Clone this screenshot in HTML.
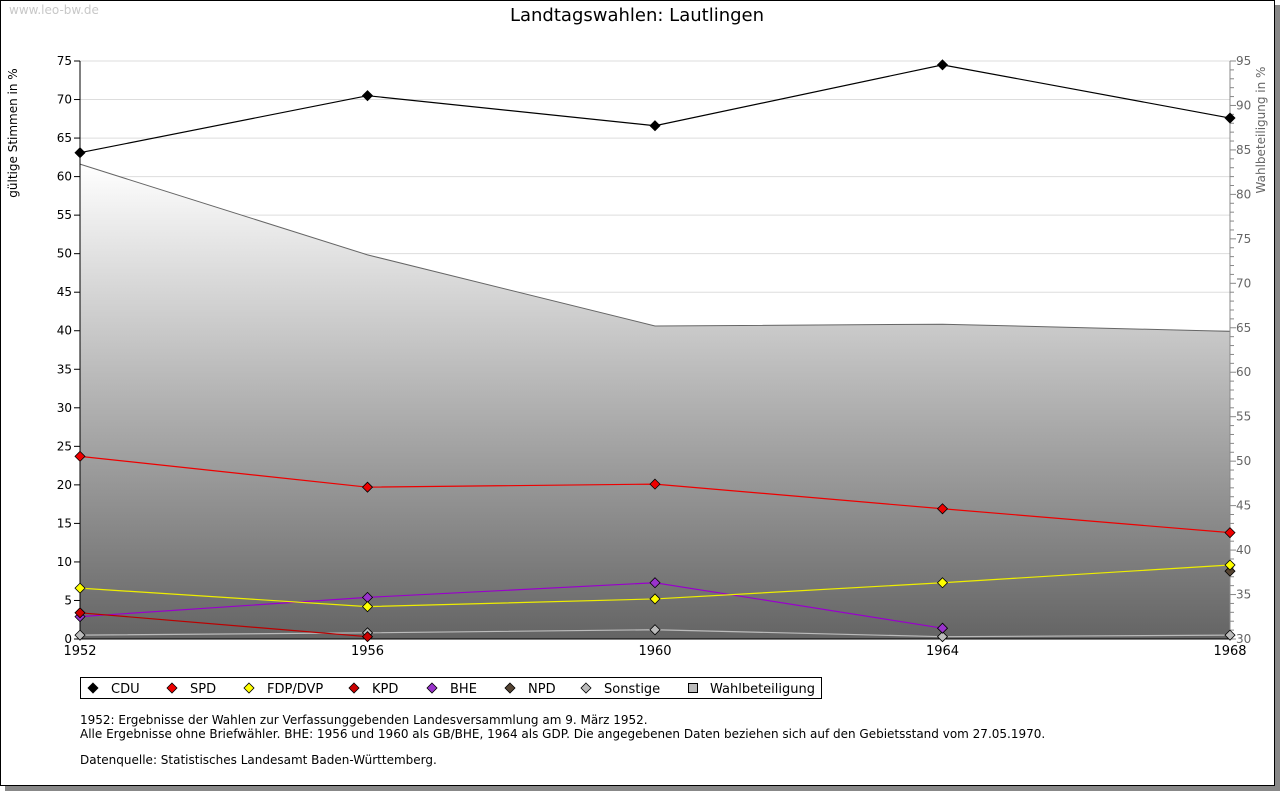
<!DOCTYPE html>
<html><head><meta charset="utf-8"><style>
body{margin:0;background:#fff;width:1280px;height:791px;overflow:hidden;font-family:"DejaVu Sans","Liberation Sans",sans-serif}
</style></head><body>
<svg id="c" width="1280" height="791" xmlns="http://www.w3.org/2000/svg" font-family="DejaVu Sans, Liberation Sans, sans-serif">
<defs><linearGradient id="g" x1="0" y1="0" x2="0" y2="1"><stop offset="0" stop-color="#ffffff"/><stop offset="1" stop-color="#646464"/></linearGradient></defs>
<rect x="1275" y="5" width="5" height="786" fill="#888"/>
<rect x="5" y="786" width="1275" height="5" fill="#888"/>
<rect x="0.5" y="0.5" width="1274" height="785" fill="#fff" stroke="#000"/>
<text x="9" y="14" font-size="12" fill="#c8c8c8">www.leo-bw.de</text>
<text x="637" y="21" font-size="18" text-anchor="middle">Landtagswahlen: Lautlingen</text>
<text transform="translate(17,133) rotate(-90)" font-size="12" text-anchor="middle">gültige Stimmen in %</text>
<text transform="translate(1265,130) rotate(-90)" font-size="12" fill="#666" text-anchor="middle">Wahlbeteiligung in %</text>
<g id="grid"></g><g id="area"></g><g id="axes"></g><g id="series"></g><g id="legend"></g>
<text x="80" y="724" font-size="12">1952: Ergebnisse der Wahlen zur Verfassunggebenden Landesversammlung am 9. März 1952.</text>
<text x="80" y="738" font-size="12">Alle Ergebnisse ohne Briefwähler. BHE: 1956 und 1960 als GB/BHE, 1964 als GDP. Die angegebenen Daten beziehen sich auf den Gebietsstand vom 27.05.1970.</text>
<text x="80" y="764" font-size="12">Datenquelle: Statistisches Landesamt Baden-Württemberg.</text>
</svg>
<script>
const years=[1952,1956,1960,1964,1968];
const leftTicks=[0,5,10,15,20,25,30,35,40,45,50,55,60,65,70,75];
const rightTicks=[30,35,40,45,50,55,60,65,70,75,80,85,90,95];
const cdu=[63.1,70.5,66.6,74.5,67.6];
const spd=[23.7,19.7,20.1,16.9,13.8];
const fdp=[6.6,4.2,5.2,7.3,9.6];
const kpd=[3.4,0.3,null,null,null];
const bhe=[2.9,5.4,7.3,1.4,null];
const npd=[null,null,null,null,8.8];
const sonstige=[0.5,0.8,1.2,0.3,0.5];
const turnout=[83.4,73.2,65.2,65.4,64.6];
const NS='http://www.w3.org/2000/svg';
const X0=80,X1=1230,Y0=639,Y1=61;
const x=i=>X0+(years[i]-1952)/(1968-1952)*(X1-X0);
const y=v=>Y0-v/75*(Y0-Y1);
const yr=v=>Y0-(v-30)/65*(Y0-Y1);
function mk(tag,attrs,parent){const e=document.createElementNS(NS,tag);for(const k in attrs)e.setAttribute(k,attrs[k]);document.getElementById(parent).appendChild(e);return e;}
leftTicks.forEach(t=>{
 if(t>0){const l=mk('line',{x1:X0,x2:X1,y1:y(t),y2:y(t),stroke:'#ddd'},'grid');
 
 }
 const tk=mk('line',{x1:74,x2:X0,y1:y(t),y2:y(t),stroke:'#000'},'axes');
 
 
 const tx=mk('text',{x:72,y:y(t)+4,'font-size':12,'text-anchor':'end'},'axes');tx.textContent=t;
 
 
});
for(let v=30;v<=95;v++){const big=v%5==0;
 const tk=mk('line',{x1:X1,x2:X1+(big?6:4),y1:yr(v),y2:yr(v),stroke:'#888'},'axes');
 
 }
rightTicks.forEach(t=>{const tx=mk('text',{x:1236,y:yr(t)+4,'font-size':12,fill:'#666'},'axes');tx.textContent=t;
 
 });
let d='M'+X0+','+Y0;turnout.forEach((v,i)=>d+=' L'+x(i)+','+yr(v));d+=' L'+X1+','+Y0+' Z';
const ar=mk('path',{d:d,fill:'url(#g)'},'area');


const al=mk('polyline',{points:turnout.map((v,i)=>x(i)+','+yr(v)).join(' '),fill:'none',stroke:'#666'},'area');


let a=mk('line',{x1:X0,x2:X0,y1:Y1,y2:Y0,stroke:'#000'},'axes');


a=mk('line',{x1:X1,x2:X1,y1:Y1,y2:Y0,stroke:'#888'},'axes');


a=mk('line',{x1:X0,x2:X1,y1:Y0,y2:Y0,stroke:'#000'},'axes');


years.forEach((yy,i)=>{const tx=mk('text',{x:x(i),y:655,'font-size':13,'text-anchor':'middle'},'axes');tx.textContent=yy;
 
 });
const series=[['cdu',cdu,'#000','#000'],['spd',spd,'#e00','#e00'],['fdp-dvp',fdp,'#ee0','#ff0'],['kpd',kpd,'#b00','#c00'],['bhe',bhe,'#90c','#93c'],['npd',npd,'#543','#543'],['sonstige',sonstige,'#bbb','#bbb']];
series.slice().reverse().forEach(([n,vals,lc,fc])=>{
 const pts=[];vals.forEach((v,i)=>{if(v!==null)pts.push(x(i)+','+y(v));});
 const pl=mk('polyline',{points:pts.join(' '),fill:'none',stroke:lc,'stroke-width':1.2},'series');
 
 
 vals.forEach((v,i)=>{if(v===null)return;const cx=x(i),cy=y(v);
  const m=mk('path',{d:`M${cx},${cy-5} L${cx+5},${cy} L${cx},${cy+5} L${cx-5},${cy} Z`,fill:fc,stroke:'#000','stroke-width':0.8},'series');
  
  });
});
const lb=mk('rect',{x:80.5,y:677.5,width:741,height:21,fill:'#fff',stroke:'#000'},'legend');


const leg=[['CDU','#000',93],['SPD','#e00',172],['FDP/DVP','#ff0',249],['KPD','#c00',354],['BHE','#93c',432],['NPD','#543',510],['Sonstige','#bbb',586]];
leg.forEach(([t,c,lx])=>{
 const m=mk('path',{d:`M${lx},${683} L${lx+5},${688} L${lx},${693} L${lx-5},${688} Z`,fill:c,stroke:'#000','stroke-width':0.8},'legend');
 
 
 const tx=mk('text',{x:lx+18,y:693,'font-size':13},'legend');tx.textContent=t;
 
 
});
const wm=mk('rect',{x:688.5,y:683.5,width:9,height:9,fill:'#bbb',stroke:'#000'},'legend');


const wt=mk('text',{x:710,y:693,'font-size':13},'legend');wt.textContent='Wahlbeteiligung';


</script>
</body></html>
